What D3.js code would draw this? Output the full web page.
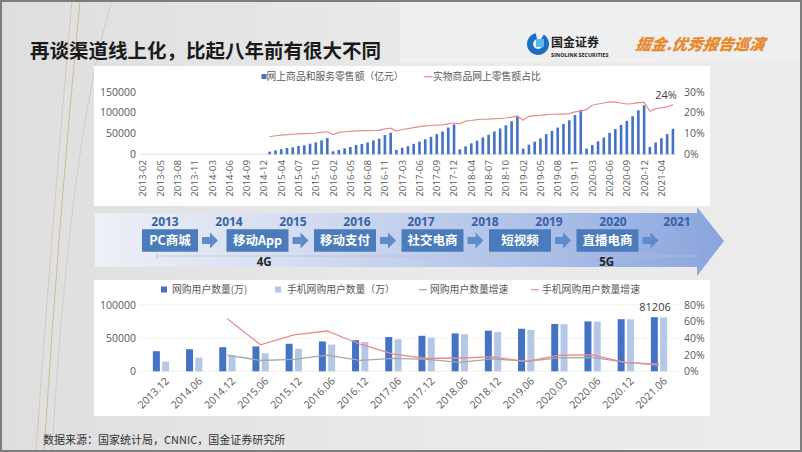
<!DOCTYPE html>
<html><head><meta charset="utf-8">
<script src="https://cdn.jsdelivr.net/npm/d3@7"></script>
<style>html,body{margin:0;padding:0;background:#e6e6e6;} svg{display:block}</style>
</head><body>
<svg id="c" width="802" height="452"></svg>
<script>
// ---------- DATA: top chart (monthly cumulative, Jan merged into Feb) ----------
const retailYears = ["2013","2014","2015","2016","2017","2018","2019","2020","2021"];
const retailMonths = ["02","03","04","05","06","07","08","09","10","11","12"];
const retailCategories = retailYears.flatMap(y => retailMonths.map(m => y + "-" + m)).filter(c => c <= "2021-06");
const retailNoData = [null,null,null,null,null,null,null,null,null,null,null,
                      null,null,null,null,null,null,null,null,null,null,null]; // 2013-02 .. 2014-12
const retail2015 = [6400, 9600, 12000, 15100, 16700, 19900, 21500, 25400, 28500, 33300, 38773];
const retail2016 = [7200, 10400, 14300, 17500, 22300, 24600, 28500, 33300, 37300, 46000, 51556];
const retail2017 = [10300, 15600, 19500, 25000, 30500, 36000, 42000, 48300, 54600, 64100, 71751];
const retail2018 = [12000, 19100, 26200, 32500, 40400, 46700, 54600, 61700, 69600, 79100, 90065];
const retail2019 = [13500, 23000, 30100, 38000, 48300, 56200, 64100, 72800, 81500, 94100, 106324];
const retail2020 = [13712, 22169, 30998, 40176, 51501, 60315, 70326, 80065, 91275, 105374, 117601];
const retail2021 = [17587, 28093, 38470, 48393, 61133];
const onlineRetail = [...retailNoData, ...retail2015, ...retail2016, ...retail2017, ...retail2018, ...retail2019, ...retail2020, ...retail2021];

const share2015 = [8.4, 8.9, 9.2, 9.4, 9.6, 9.8, 9.9, 10.0, 10.2, 10.5, 10.8];
const share2016 = [9.5, 10.5, 10.8, 11.0, 11.2, 11.3, 11.3, 11.4, 11.5, 12.2, 12.5];
const share2017 = [11.1, 11.9, 12.3, 12.8, 13.3, 13.6, 13.8, 14.0, 14.1, 14.6, 15.0];
const share2018 = [14.6, 15.9, 16.2, 16.6, 16.8, 16.9, 17.1, 17.2, 17.4, 17.8, 18.4];
const share2019 = [16.3, 18.2, 18.5, 18.7, 19.0, 19.2, 19.3, 19.3, 19.5, 20.3, 20.7];
const share2020 = [21.5, 23.5, 24.1, 24.6, 25.1, 25.0, 24.6, 24.1, 24.3, 24.8, 24.9];
const share2021 = [20.6, 21.9, 22.3, 22.7, 23.8];
const physicalShare = [...retailNoData, ...share2015, ...share2016, ...share2017, ...share2018, ...share2019, ...share2020, ...share2021];

const topLeftTicks = [0, 50000, 100000, 150000];
const topRightTicks = [0, 10, 20, 30];
const topLegend = ["网上商品和服务零售额（亿元）", "实物商品网上零售额占比"];
const topAnnotation = "24%";

// ---------- DATA: timeline ----------
const timelineYears = [2013, 2014, 2015, 2016, 2017, 2018, 2019, 2020, 2021];
const timelineStages = ["PC商城", "移动App", "移动支付", "社交电商", "短视频", "直播电商"];
const networkLabels = [{name: "4G", at: 2014.55}, {name: "5G", at: 2019.9}];

// ---------- DATA: bottom chart ----------
const userCategories = ["2013.12","2014.06","2014.12","2015.06","2015.12","2016.06","2016.12","2017.06",
                        "2017.12","2018.06","2018.12","2019.06","2020.03","2020.06","2020.12","2021.06"];
const onlineUsers = [30189, 33151, 36142, 37391, 41325, 44772, 46670, 51443, 53332, 56892, 61011, 63882, 71027, 74939, 78241, 81206];
const mobileUsers = [14440, 20499, 23609, 27036, 33961, 40070, 44093, 48033, 50563, 55743, 59191, 62181, 70749, 74749, 78058, 80875];
const onlineUsersGrowth = [null, null, 19.4, 13.0, 14.4, 19.5, 13.2, 15.5, 14.3, 10.8, 15.0, 12.1, 16.2, 16.6, 10.6, 7.5];
const mobileUsersGrowth = [null, null, 63.0, 31.8, 43.8, 48.4, 32.5, 20.6, 15.4, 16.0, 17.4, 11.6, 19.3, 19.8, 10.4, 8.6];
const bottomLeftTicks = [0, 50000, 100000];
const bottomRightTicks = [0, 20, 40, 60, 80];
const bottomLegend = ["网购用户数量(万)", "手机网购用户数量（万）", "网购用户数量增速", "手机网购用户数量增速"];
const bottomAnnotation = "81206";

const titleText = "再谈渠道线上化，比起八年前有很大不同";
const sourceText = "数据来源：国家统计局，CNNIC，国金证券研究所";

// ---------- STYLE ----------
const CJK = "'Noto Sans CJK SC', 'Noto Sans', sans-serif";
const NUM = "'Open Sans', 'Noto Sans CJK SC', sans-serif";
const BAR = "#4472c4", BAR_LIGHT = "#b4c7e7", RED = "#e88c8c", GRAY = "#a6a6a6", TXT = "#595959";

const svg = d3.select("#c");
const defs = svg.append("defs");

// background
const bg = defs.append("linearGradient").attr("id", "bg").attr("x1", 0).attr("x2", 1).attr("y1", 0).attr("y2", 0);
bg.append("stop").attr("offset", 0).attr("stop-color", "#dedede");
bg.append("stop").attr("offset", 0.5).attr("stop-color", "#e9e9e9");
bg.append("stop").attr("offset", 1).attr("stop-color", "#ececec");
svg.append("rect").attr("width", 802).attr("height", 452).attr("fill", "url(#bg)");
svg.append("rect").attr("x", 400).attr("y", 2).attr("width", 400).attr("height", 60).attr("fill", "#f1f1f1").attr("opacity", 0.7);

// decorative lines
const deco = svg.append("g").attr("fill", "none").attr("stroke-width", 0.8);
deco.append("path").attr("d", "M80,0 Q58,230 44,452").attr("stroke", "#c9b27e");
deco.append("path").attr("d", "M72,0 Q50,250 36,452").attr("stroke", "#cfc4ae");
deco.append("path").attr("d", "M112,0 Q70,140 52,452").attr("stroke", "#c8c8c8");

// frame
svg.append("rect").attr("x", 1).attr("y", 1).attr("width", 800).attr("height", 450)
  .attr("fill", "none").attr("stroke", "#7d7d7d").attr("stroke-width", 2);

// title
svg.append("text").attr("x", 30).attr("y", 58).text(titleText)
  .attr("font-family", CJK).attr("font-weight", 700).attr("font-size", 19.5).attr("fill", "#1a1a1a");

// logo
const logo = svg.append("g");
logo.append("path").attr("d", d3.arc()({innerRadius: 5, outerRadius: 11, startAngle: 0.55, endAngle: 2 * Math.PI - 0.2}))
  .attr("transform", "translate(538,44)").attr("fill", "#1a6fc4");
logo.append("rect").attr("x", 536).attr("y", 39).attr("width", 8).attr("height", 8).attr("fill", "#5cb6ea");
logo.append("text").attr("x", 551).attr("y", 47).text("国金证券")
  .attr("font-family", CJK).attr("font-weight", 700).attr("font-size", 12).attr("fill", "#222");
logo.append("text").attr("x", 551).attr("y", 56.5).text("SINOLINK SECURITIES")
  .attr("font-family", "'Open Sans', sans-serif").attr("font-weight", 700).attr("font-size", 5.4).attr("fill", "#222");
logo.append("text").attr("x", 636).attr("y", 50).text("掘金.优秀报告巡演")
  .attr("font-family", CJK).attr("font-weight", 900).attr("font-size", 15.5).attr("font-style", "italic")
  .attr("fill", "#e8892e").attr("transform", "skewX(-8) translate(6,0)");

// ================= TOP CHART =================
svg.append("rect").attr("x", 94).attr("y", 66).attr("width", 616).attr("height", 140).attr("fill", "#ffffff");

const xTop = d3.scaleBand().domain(retailCategories).range([140.1, 675.8]).padding(0);
const yTopL = d3.scaleLinear().domain([0, 150000]).range([154.3, 91.7]);
const yTopR = d3.scaleLinear().domain([0, 30]).range([154.3, 91.7]);
const topBarW = 2.6;
const gTop = svg.append("g");

gTop.append("line").attr("x1", 140).attr("x2", 676).attr("y1", yTopL(0)).attr("y2", yTopL(0))
  .attr("stroke", "#d9d9d9").attr("stroke-width", 0.8);

gTop.selectAll("rect.bar").data(retailCategories.map((c, i) => ({c, v: onlineRetail[i]})).filter(d => d.v != null))
  .join("rect").attr("class", "bar")
  .attr("x", d => xTop(d.c) + (xTop.bandwidth() - topBarW) / 2)
  .attr("width", topBarW)
  .attr("y", d => yTopL(d.v)).attr("height", d => yTopL(0) - yTopL(d.v))
  .attr("fill", BAR);

const lineTop = d3.line().defined(d => d.v != null)
  .x(d => xTop(d.c) + xTop.bandwidth() / 2).y(d => yTopR(d.v));
gTop.append("path").datum(retailCategories.map((c, i) => ({c, v: physicalShare[i]})))
  .attr("d", lineTop).attr("fill", "none").attr("stroke", RED).attr("stroke-width", 1.2);

// axes
const axTopL = gTop.append("g").attr("transform", "translate(136,0)")
  .call(d3.axisLeft(yTopL).tickValues(topLeftTicks).tickSize(0).tickPadding(0).tickFormat(d3.format("d")));
const axTopR = gTop.append("g").attr("transform", "translate(684,0)")
  .call(d3.axisRight(yTopR).tickValues(topRightTicks).tickSize(0).tickPadding(0).tickFormat(d => d + "%"));
const tickLabelsTop = retailCategories.filter((c, i) => i % 3 === 0);
const axTopB = gTop.append("g").attr("transform", "translate(0,160)")
  .call(d3.axisBottom(xTop).tickValues(tickLabelsTop).tickSize(0).tickPadding(0));
[axTopL, axTopR, axTopB].forEach(a => {
  a.select(".domain").remove();
  a.selectAll("text").attr("font-family", NUM).attr("fill", TXT);
});
axTopL.selectAll("text").attr("font-size", 10.5);
axTopR.selectAll("text").attr("font-size", 10.5);
axTopB.selectAll("text").attr("font-size", 9.8)
  .attr("transform", "rotate(-90)").attr("text-anchor", "end")
  .attr("x", 0).attr("y", 0).attr("dx", 0).attr("dy", "0.35em");

// annotation
const lastIdx = physicalShare.length - 1;
gTop.append("text").attr("x", xTop(retailCategories[lastIdx]) - 4).attr("y", 99).attr("text-anchor", "middle")
  .text(topAnnotation).attr("font-family", NUM).attr("font-size", 11).attr("fill", "#404040");

// legend
const lgTop = gTop.append("g").attr("font-family", CJK).attr("font-size", 9.8).attr("fill", TXT);
lgTop.append("rect").attr("x", 261.5).attr("y", 74).attr("width", 5).attr("height", 5).attr("fill", BAR);
lgTop.append("text").attr("x", 266.5).attr("y", 80.3).text(topLegend[0]);
lgTop.append("line").attr("x1", 424).attr("x2", 432.5).attr("y1", 76.7).attr("y2", 76.7).attr("stroke", RED).attr("stroke-width", 1.2);
lgTop.append("text").attr("x", 433).attr("y", 80.3).text(topLegend[1]);

// ================= TIMELINE =================
const tg = defs.append("linearGradient").attr("id", "arrowGrad").attr("gradientUnits", "userSpaceOnUse")
  .attr("x1", 95).attr("x2", 724).attr("y1", 0).attr("y2", 0);
tg.append("stop").attr("offset", 0).attr("stop-color", "#eef0f6");
tg.append("stop").attr("offset", 0.3).attr("stop-color", "#d6def2");
tg.append("stop").attr("offset", 0.7).attr("stop-color", "#adc0e8");
tg.append("stop").attr("offset", 1).attr("stop-color", "#8aa5dd");
svg.append("path").attr("d", "M95,213 L697,213 L697,207 L724,241 L697,276 L697,267 L95,267 Z").attr("fill", "url(#arrowGrad)");

const yearX = d3.scaleLinear().domain([2013, 2021]).range([165, 677]);
const stageX = d3.scalePoint().domain(timelineStages).range([170, 607.5]);
const tl = svg.append("g");
tl.selectAll("text.year").data(timelineYears).join("text").attr("class", "year")
  .attr("x", d => yearX(d)).attr("y", 226).attr("text-anchor", "middle").text(d => d)
  .attr("font-family", NUM).attr("font-weight", 700).attr("font-size", 12).attr("fill", "#3562a6");

// network lines
tl.append("line").attr("x1", 157).attr("x2", 700).attr("y1", 256).attr("y2", 256).attr("stroke", "#b8c0cc").attr("stroke-width", 0.7);
tl.append("line").attr("x1", 157).attr("x2", 157).attr("y1", 253).attr("y2", 259).attr("stroke", "#b8c0cc").attr("stroke-width", 0.7);
tl.append("line").attr("x1", 537).attr("x2", 537).attr("y1", 253).attr("y2", 259).attr("stroke", "#b8c0cc").attr("stroke-width", 0.7);

const boxW = 62, boxH = 22.5;
const stg = tl.selectAll("g.stage").data(timelineStages).join("g").attr("class", "stage")
  .attr("transform", d => `translate(${stageX(d)},240.5)`);
stg.append("rect").attr("x", (d, i) => i === 0 ? -28 : -boxW / 2).attr("width", (d, i) => i === 0 ? 56 : boxW)
  .attr("y", -boxH / 2).attr("height", boxH).attr("fill", "#4a7cbc");
stg.append("text").attr("text-anchor", "middle").attr("dy", "0.36em").text(d => d)
  .attr("font-family", CJK).attr("font-weight", 700).attr("font-size", 12.5).attr("fill", "#ffffff");
stg.append("path")
  .attr("d", (d, i) => { const x0 = (i === 0 ? 28 : boxW / 2) + 4; return `M${x0},-3.5 h8 v-4.5 l8,8 l-8,8 v-4.5 h-8 Z`; })
  .attr("fill", "#5f8bcb");

tl.selectAll("text.net").data(networkLabels).join("text").attr("class", "net")
  .attr("x", d => yearX(d.at)).attr("y", 266).attr("text-anchor", "middle").text(d => d.name)
  .attr("font-family", NUM).attr("font-weight", 700).attr("font-size", 11.5).attr("fill", "#262626");

// ================= BOTTOM CHART =================
svg.append("rect").attr("x", 94).attr("y", 280).attr("width", 616).attr("height", 136).attr("fill", "#ffffff");

const xBot = d3.scaleBand().domain(userCategories).range([144.4, 675.6]).padding(0);
const xSub = d3.scaleBand().domain(["online", "mobile"]).range([8.45, 24.75]).paddingInner(0.25);
const yBotL = d3.scaleLinear().domain([0, 100000]).range([371.3, 304.7]);
const yBotR = d3.scaleLinear().domain([0, 80]).range([371.3, 304.7]);
const gBot = svg.append("g");

gBot.selectAll("line.grid").data(bottomLeftTicks).join("line").attr("class", "grid")
  .attr("x1", 140).attr("x2", 678).attr("y1", d => yBotL(d)).attr("y2", d => yBotL(d))
  .attr("stroke", "#eeeeee").attr("stroke-width", 0.8);

const userRows = userCategories.map((c, i) => ({c, online: onlineUsers[i], mobile: mobileUsers[i],
  g1: onlineUsersGrowth[i], g2: mobileUsersGrowth[i]}));
gBot.selectAll("rect.on").data(userRows).join("rect").attr("class", "on")
  .attr("x", d => xBot(d.c) + xSub("online")).attr("width", xSub.bandwidth())
  .attr("y", d => yBotL(d.online)).attr("height", d => yBotL(0) - yBotL(d.online)).attr("fill", BAR);
gBot.selectAll("rect.mo").data(userRows).join("rect").attr("class", "mo")
  .attr("x", d => xBot(d.c) + xSub("mobile")).attr("width", xSub.bandwidth())
  .attr("y", d => yBotL(d.mobile)).attr("height", d => yBotL(0) - yBotL(d.mobile)).attr("fill", BAR_LIGHT);

const lineBot = key => d3.line().defined(d => d[key] != null)
  .x(d => xBot(d.c) + xBot.bandwidth() / 2).y(d => yBotR(d[key]));
gBot.append("path").datum(userRows).attr("d", lineBot("g1")).attr("fill", "none").attr("stroke", GRAY).attr("stroke-width", 1.3);
gBot.append("path").datum(userRows).attr("d", lineBot("g2")).attr("fill", "none").attr("stroke", RED).attr("stroke-width", 1.3);

const axBotL = gBot.append("g").attr("transform", "translate(136,0)")
  .call(d3.axisLeft(yBotL).tickValues(bottomLeftTicks).tickSize(0).tickPadding(0).tickFormat(d3.format("d")));
const axBotR = gBot.append("g").attr("transform", "translate(684,0)")
  .call(d3.axisRight(yBotR).tickValues(bottomRightTicks).tickSize(0).tickPadding(0).tickFormat(d => d + "%"));
const axBotB = gBot.append("g").attr("transform", "translate(0,378)")
  .call(d3.axisBottom(xBot).tickSize(0).tickPadding(0));
[axBotL, axBotR, axBotB].forEach(a => {
  a.select(".domain").remove();
  a.selectAll("text").attr("font-family", NUM).attr("fill", TXT).attr("font-size", 10.5);
});
axBotB.selectAll("text").attr("text-anchor", "end").attr("y", 0).attr("dy", "0.5em")
  .attr("transform", "translate(5,0) rotate(-45)");

// annotation
const lastU = userRows[userRows.length - 1];
gBot.append("text").attr("x", xBot(lastU.c) + xBot.bandwidth() / 2 - 4).attr("y", yBotL(lastU.online) - 6)
  .attr("text-anchor", "middle").text(bottomAnnotation)
  .attr("font-family", NUM).attr("font-size", 11).attr("fill", "#404040");

// legend
const lgB = gBot.append("g").attr("font-family", CJK).attr("font-size", 9.8).attr("fill", TXT);
lgB.append("rect").attr("x", 161).attr("y", 286.5).attr("width", 6).attr("height", 6).attr("fill", BAR);
lgB.append("text").attr("x", 172).attr("y", 293.2).text(bottomLegend[0]);
lgB.append("rect").attr("x", 275).attr("y", 286.5).attr("width", 6).attr("height", 6).attr("fill", BAR_LIGHT);
lgB.append("text").attr("x", 287).attr("y", 293.2).text(bottomLegend[1]);
lgB.append("line").attr("x1", 419).attr("x2", 427).attr("y1", 289.7).attr("y2", 289.7).attr("stroke", GRAY).attr("stroke-width", 1.2);
lgB.append("text").attr("x", 430).attr("y", 293.2).text(bottomLegend[2]);
lgB.append("line").attr("x1", 531).attr("x2", 539).attr("y1", 289.7).attr("y2", 289.7).attr("stroke", RED).attr("stroke-width", 1.2);
lgB.append("text").attr("x", 542).attr("y", 293.2).text(bottomLegend[3]);

// source
svg.append("text").attr("x", 43).attr("y", 444).text(sourceText)
  .attr("font-family", CJK).attr("font-size", 11).attr("fill", "#333");
</script>
</body></html>
